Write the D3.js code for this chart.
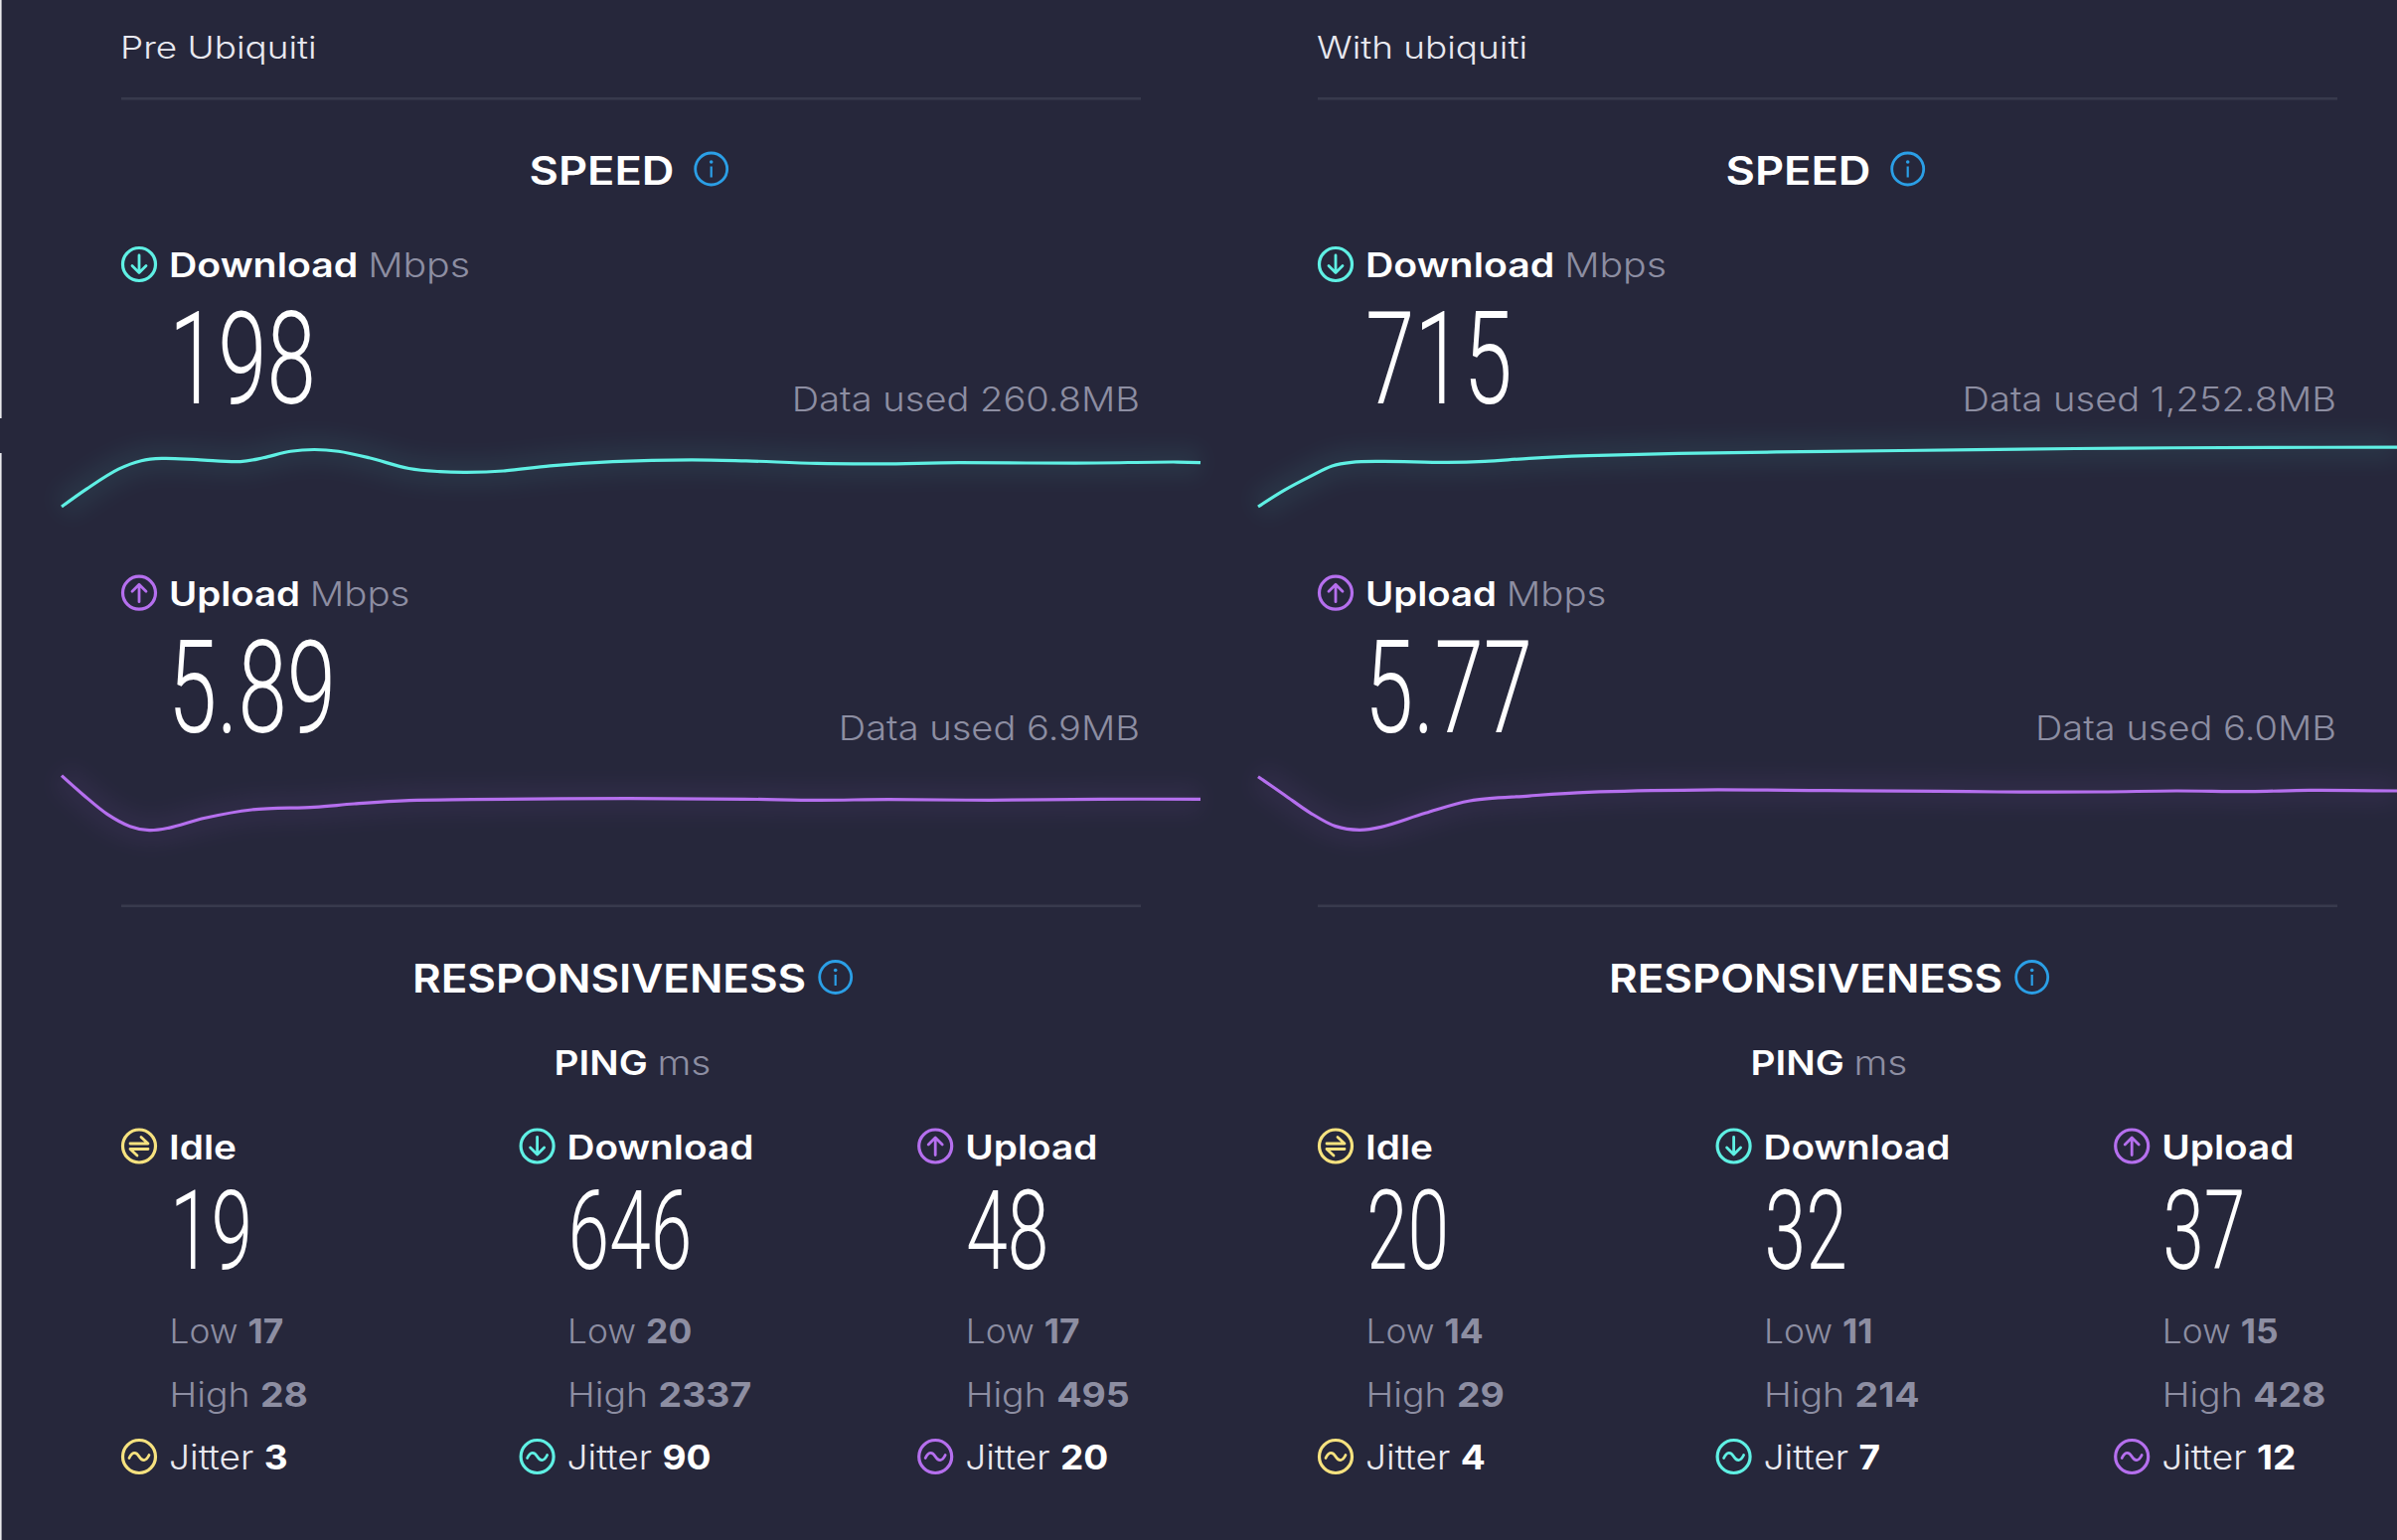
<!DOCTYPE html>
<html>
<head>
<meta charset="utf-8">
<script src="https://cdn.jsdelivr.net/npm/d3@7"></script>
<style>
html, body { margin: 0; padding: 0; background: #26273b; overflow: hidden; }
text { font-family: Inter, "Noto Sans", sans-serif; }
.big { font-family: Roboto, sans-serif; font-weight: 300; }
</style>
</head>
<body>
<script>
// values
const panelTitles = ["Pre Ubiquiti", "With ubiquiti"];
const downloadSpeed = ["198", "715"];
const uploadSpeed = ["5.89", "5.77"];
const downloadUsed = ["260.8MB", "1,252.8MB"];
const uploadUsed = ["6.9MB", "6.0MB"];

const pingNames = ["Idle", "Download", "Upload"];
const pingMain = [["19", "646", "48"], ["20", "32", "37"]];
const pingLow = [[17, 20, 17], [14, 11, 15]];
const pingHigh = [[28, 2337, 495], [29, 214, 428]];
const pingJitter = [[3, 90, 20], [4, 7, 12]];

// % of test elapsed / Mbps
const preDownT = [0, 2.2, 5, 7, 8.8, 11.9, 15.7, 17.7, 20.1, 22.2, 24.3, 27, 30.5, 33.2, 35.6, 38.8, 42.9, 48.4, 55.3, 60.1, 66.3, 71.9, 78.8, 89, 98, 100];
const preDownV = [0, 80, 169, 207, 217, 212, 203, 220, 249, 257, 249, 220, 172, 158, 155, 161, 184, 203, 211, 206, 195, 193, 198, 196, 201, 198];
const preUpT = [0, 1.9, 4, 6, 7.7, 9.4, 12.6, 16.7, 22.2, 25.7, 30.5, 36, 49.8, 60, 66.4, 72.6, 81.5, 91.2, 100];
const preUpV = [8.39, 6.35, 4.3, 3, 2.57, 2.82, 3.88, 4.76, 5.04, 5.39, 5.75, 5.85, 5.96, 5.89, 5.78, 5.85, 5.78, 5.89, 5.89];
const withDownT = [0, 2.3, 4.6, 6.5, 8.2, 10.8, 16.6, 19.9, 23.8, 29, 36.9, 49.9, 63, 76, 89, 100];
const withDownV = [0, 204, 376, 503, 548, 560, 548, 560, 597, 629, 658, 682, 703, 723, 731, 735];
const withUpT = [0, 2.3, 4.6, 6.8, 8.9, 10.8, 14.7, 18.6, 23.8, 29, 38.8, 49.9, 59.7, 64.9, 74, 80.6, 87.1, 92.3, 100];
const withUpV = [7.17, 5.5, 3.82, 2.6, 2.26, 2.53, 3.82, 4.95, 5.4, 5.74, 5.95, 5.89, 5.83, 5.77, 5.77, 5.86, 5.8, 5.92, 5.86];

const downSeries = [[preDownT, preDownV], [withDownT, withDownV]];
const upSeries = [[preUpT, preUpV], [withUpT, withUpV]];
// each chart autoscaled on its own in the app
const downDomain = [300, 800];
const upDomain = [10, 10];

const W = 2412, H = 1550;
const panelStep = 1204;
const colStep = 400.6;
const bg = "#26273b", white = "#ffffff", soft = "#e9e9f0", grey = "#8d8ea2", rule = "#383a4d";
const cyan = "#5ff0e4", purple = "#b56fee", yellow = "#f6e27f", blue = "#2b9fe6";

const svg = d3.select("body").append("svg")
    .attr("width", W)
    .attr("height", H)
    .style("display", "block");

svg.append("rect").attr("width", W).attr("height", H).attr("fill", bg);

const defs = svg.append("defs");
defs.append("filter").attr("id", "glow")
    .attr("x", "-5%").attr("y", "-100%").attr("width", "110%").attr("height", "300%")
    .append("feGaussianBlur").attr("stdDeviation", 11);

// thin white sliver on the left of the screenshot
svg.append("rect").attr("x", 0).attr("y", 0).attr("width", 1.6).attr("height", 421).attr("fill", "#e8e8ec");
svg.append("rect").attr("x", 0).attr("y", 456).attr("width", 1.6).attr("height", H - 456).attr("fill", "#e8e8ec");

// sx stretches Inter out to the wider font used in the app
function label(g, x, y, size, parts, sx, anchor) {
    const t = g.append("text")
        .attr("transform", `translate(${x},${y}) scale(${sx},1)`)
        .attr("font-size", size)
        .attr("text-anchor", anchor || "start");
    parts.forEach(p => {
        t.append("tspan").attr("font-weight", p[1]).attr("fill", p[2]).text(p[0]);
    });
    return t;
}

function bigNumber(g, x, y, size, txt, squeeze) {
    g.append("text").attr("class", "big")
        .attr("transform", `translate(${x},${y}) scale(${squeeze},1)`)
        .attr("font-size", size)
        .attr("fill", white)
        .text(txt);
}

function ringIcon(g, cx, cy, color, kind) {
    const i = g.append("g").attr("transform", `translate(${cx},${cy})`)
        .attr("fill", "none").attr("stroke", color)
        .attr("stroke-linecap", "round").attr("stroke-linejoin", "round");
    i.append("circle").attr("r", 16.5).attr("stroke-width", 3.2);
    const glyphs = {
        down: "M0,-9V8M-7,1.5L0,8.5L7,1.5",
        up: "M0,9V-8M-7,-1.5L0,-8.5L7,-1.5",
        idle: "M-9,-2.5H9L2,-9M9,3H-9L-2,9.5",
        jitter: "M-10,1.5C-7,-5 -3,-5 0,0C3,5 7,5 10,-1.5"
    };
    i.append("path").attr("d", glyphs[kind]).attr("stroke-width", 2.8);
}

function infoIcon(g, cx, cy) {
    const i = g.append("g").attr("transform", `translate(${cx},${cy})`);
    i.append("circle").attr("r", 16).attr("fill", "none").attr("stroke", blue).attr("stroke-width", 2.8);
    i.append("circle").attr("cy", -7).attr("r", 1.8).attr("fill", blue);
    i.append("rect").attr("x", -1.1).attr("y", -2.5).attr("width", 2.2).attr("height", 11).attr("fill", blue);
}

function speedLine(g, series, yMax, bottom, pxPerUnit, color) {
    const x = d3.scaleLinear().domain([0, 100]).range([62, 1208]);
    const y = d3.scaleLinear().domain([0, yMax]).range([bottom, bottom - yMax * pxPerUnit]);
    const pts = d3.zip(series[0], series[1]);
    const line = d3.line().x(d => x(d[0])).y(d => y(d[1])).curve(d3.curveCatmullRom.alpha(0.5));
    g.append("path").datum(pts).attr("d", line)
        .attr("fill", "none").attr("stroke", color).attr("stroke-width", 26)
        .attr("opacity", 0.07).attr("filter", "url(#glow)");
    g.append("path").datum(pts).attr("d", line)
        .attr("fill", "none").attr("stroke", color).attr("stroke-width", 3.2);
}

const downPx = [44.3 / 198, 58.3 / 715];
const upPx = [55.7 / 5.89, 63 / 5.77];
const pingColors = [yellow, cyan, purple];
const pingIcons = ["idle", "down", "up"];

panelTitles.forEach((title, p) => {
    const g = svg.append("g").attr("transform", `translate(${p * panelStep},0)`);

    label(g, 121, 58.5, 31, [[title, 300, soft]], 1.19);
    g.append("rect").attr("x", 122).attr("y", 98).attr("width", 1026).attr("height", 2.6).attr("fill", rule);

    // speed section
    label(g, 532.5, 186.4, 39, [["SPEED", 600, white]], 1.16);
    infoIcon(g, 715.7, 170);

    ringIcon(g, 140, 266, cyan, "down");
    label(g, 170, 279, 34, [["Download ", 600, white], ["Mbps", 300, grey]], 1.155);
    bigNumber(g, 170, 405.5, 130, downloadSpeed[p], 0.683);
    label(g, 1147, 413.5, 34, [["Data used " + downloadUsed[p], 300, grey]], 1.12, "end");
    speedLine(g, downSeries[p], downDomain[p], 510, downPx[p], cyan);

    ringIcon(g, 140, 596.7, purple, "up");
    label(g, 170, 610, 34, [["Upload ", 600, white], ["Mbps", 300, grey]], 1.13);
    bigNumber(g, 169, 736.5, 130, uploadSpeed[p], 0.683);
    label(g, 1147, 745, 34, [["Data used " + uploadUsed[p], 300, grey]], 1.12, "end");
    speedLine(g, upSeries[p], upDomain[p], 860, upPx[p], purple);

    g.append("rect").attr("x", 122).attr("y", 910.5).attr("width", 1026).attr("height", 2.6).attr("fill", rule);

    // responsiveness section
    label(g, 415, 998.7, 40, [["RESPONSIVENESS", 600, white]], 1.10);
    infoIcon(g, 840.7, 983.5);
    label(g, 557.5, 1081.5, 34, [["PING ", 600, white], ["ms", 300, grey]], 1.14);

    pingNames.forEach((name, c) => {
        const dx = c * colStep;
        ringIcon(g, 140 + dx, 1153.5, pingColors[c], pingIcons[c]);
        label(g, 170 + dx, 1166.5, 34, [[name, 600, white]], 1.14);
        bigNumber(g, 171 + dx, 1276.5, 112, pingMain[p][c], 0.67);
        label(g, 170.5 + dx, 1351.5, 34, [["Low ", 300, grey], [pingLow[p][c], 700, grey]], 1.04);
        label(g, 170.5 + dx, 1415.5, 34, [["High ", 300, grey], [pingHigh[p][c], 700, grey]], 1.10);
        ringIcon(g, 140 + dx, 1466, pingColors[c], "jitter");
        label(g, 170 + dx, 1479, 34, [["Jitter ", 300, soft], [pingJitter[p][c], 700, white]], 1.09);
    });
});
</script>
</body>
</html>
